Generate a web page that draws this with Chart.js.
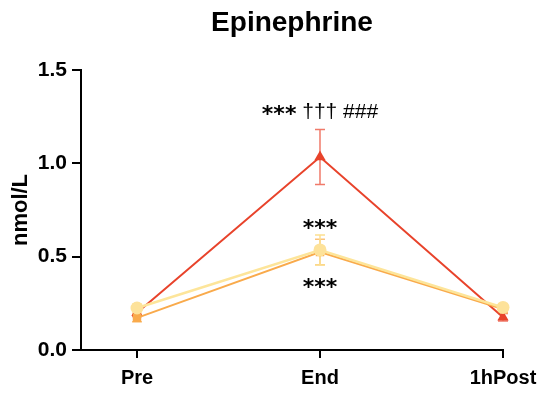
<!DOCTYPE html>
<html><head><meta charset="utf-8">
<script src="https://cdn.jsdelivr.net/npm/chart.js@4/dist/chart.umd.min.js"></script>
<style>html,body{margin:0;padding:0;background:#fff}#wrap{width:540px;height:394px}</style>
</head><body><div id="wrap"><canvas id="c" width="540" height="394"></canvas></div>
<script>
const categories = ["Pre", "End", "1hPost"];
const seriesNames = ["Epinephrine A", "Epinephrine B", "Epinephrine C"];
const redValues = [0.20, 1.034, 0.175];
const redErrors = [0.02, 0.147, 0.02];
const orangeValues = [0.172, 0.525, 0.22];
const orangeErrors = [0.02, 0.068, 0.02];
const yellowValues = [0.225, 0.536, 0.228];
const yellowErrors = [0.02, 0.08, 0.02];
const yTicks = [0, 0.5, 1.0, 1.5];
const annotations = [
  {cat: 1, y: 1.275, parts: ["***", " \u2020\u2020\u2020 ", "###"]},
  {cat: 1, y: 0.665, parts: ["***"]},
  {cat: 1, y: 0.345, parts: ["***"]}
];

const FONT = '"Liberation Sans", Arial, sans-serif';
function pts(vals){ return vals.map((v,i)=>({x:i, y:v})); }

const errorPlugin = {
  id: 'errbars',
  beforeDatasetsDraw(chart){
    const ctx = chart.ctx, xs = chart.scales.x, ys = chart.scales.y;
    chart.data.datasets.forEach((ds)=>{
      ctx.save();
      ctx.strokeStyle = ds.errColor; ctx.lineWidth = 1.5;
      ds.data.forEach((p,i)=>{
        const e = ds.errors[i];
        const px = xs.getPixelForValue(p.x);
        const top = ys.getPixelForValue(p.y+e), bot = ys.getPixelForValue(p.y-e);
        ctx.beginPath();
        ctx.moveTo(px, top); ctx.lineTo(px, bot);
        ctx.moveTo(px-5, top); ctx.lineTo(px+5, top);
        ctx.moveTo(px-5, bot); ctx.lineTo(px+5, bot);
        ctx.stroke();
      });
      ctx.restore();
    });
  },
  afterDatasetsDraw(chart){
    const ctx = chart.ctx, xs = chart.scales.x, ys = chart.scales.y;
    ctx.save();
    ctx.fillStyle = '#000';
    ctx.textBaseline = 'middle'; ctx.textAlign = 'left';
    const fontFor = (s)=> s.indexOf('*')>=0 ? 'bold 22px "DejaVu Sans", sans-serif' : '21px ' + FONT;
    annotations.forEach(a=>{
      let total = 0;
      const widths = a.parts.map(s=>{ ctx.font = fontFor(s); const w = ctx.measureText(s).width; total += w; return w; });
      let x = xs.getPixelForValue(a.cat) - total/2;
      const y = ys.getPixelForValue(a.y);
      a.parts.forEach((s,i)=>{
        ctx.font = fontFor(s);
        ctx.fillText(s, x, s.indexOf('*')>=0 ? y+3 : y);
        x += widths[i];
      });
    });
    ctx.restore();
  }
};

new Chart(document.getElementById('c'), {
  type: 'scatter',
  data: {
    datasets: [
      {label: seriesNames[0], data: pts(redValues), errors: redErrors, errColor: '#F07A6A',
       showLine: true, borderColor: '#E8432B', backgroundColor: '#E8432B', borderWidth: 2,
       pointStyle: 'triangle', pointRadius: 6.5, pointBorderWidth: 0, order: 3},
      {label: seriesNames[1], data: pts(orangeValues), errors: orangeErrors, errColor: '#FBC27A',
       showLine: true, borderColor: '#F9AA4B', backgroundColor: '#F9AA4B', borderWidth: 2,
       pointStyle: 'rect', pointRadius: 6, pointBorderWidth: 0, order: 2},
      {label: seriesNames[2], data: pts(yellowValues), errors: yellowErrors, errColor: '#FDE090',
       showLine: true, borderColor: '#FDE59A', backgroundColor: '#FDE29A', borderWidth: 2.5,
       pointStyle: 'circle', pointRadius: 6.5, pointBorderWidth: 0, order: 1}
    ]
  },
  options: {
    responsive: false, animation: false, clip: false,
    layout: {padding: {left: 0, right: 37, top: 0, bottom: 0}},
    plugins: {
      legend: {display: false}, tooltip: {enabled: false},
      title: {display: true, text: 'Epinephrine', color: '#000', fullSize: false,
        font: {family: FONT, size: 28, weight: 'bold'},
        padding: {top: 6, bottom: 30.4}}
    },
    scales: {
      x: {type: 'linear', min: -0.306, max: 2,
        afterBuildTicks(s){ s.ticks = categories.map((c,i)=>({value:i})); },
        afterFit(s){ s.height = 44; s.paddingLeft = 0; s.paddingRight = 0; },
        ticks: {callback: (v)=>categories[v], color: '#000', padding: 8, maxRotation: 0,
          font: {family: FONT, size: 20, weight: 'bold'}},
        grid: {display: true, drawOnChartArea: false, drawTicks: true, tickLength: 8, color: '#000', lineWidth: 2},
        border: {display: true, color: '#000', width: 2}
      },
      y: {type: 'linear', min: 0, max: 1.5,
        afterBuildTicks(s){ s.ticks = yTicks.map(v=>({value:v})); },
        afterFit(s){ s.width = 81; s.paddingTop = 0; s.paddingBottom = 0; },
        ticks: {callback: (v)=>v.toFixed(1), color: '#000', padding: 5,
          font: {family: FONT, size: 21, weight: 'bold'}},
        title: {display: true, text: 'nmol/L', color: '#000', padding: {top: 8, bottom: 0},
          font: {family: FONT, size: 22, weight: 'bold'}},
        grid: {display: true, drawOnChartArea: false, drawTicks: true, tickLength: 9, color: '#000', lineWidth: 2},
        border: {display: true, color: '#000', width: 2}
      }
    }
  },
  plugins: [errorPlugin]
});
</script></body></html>
